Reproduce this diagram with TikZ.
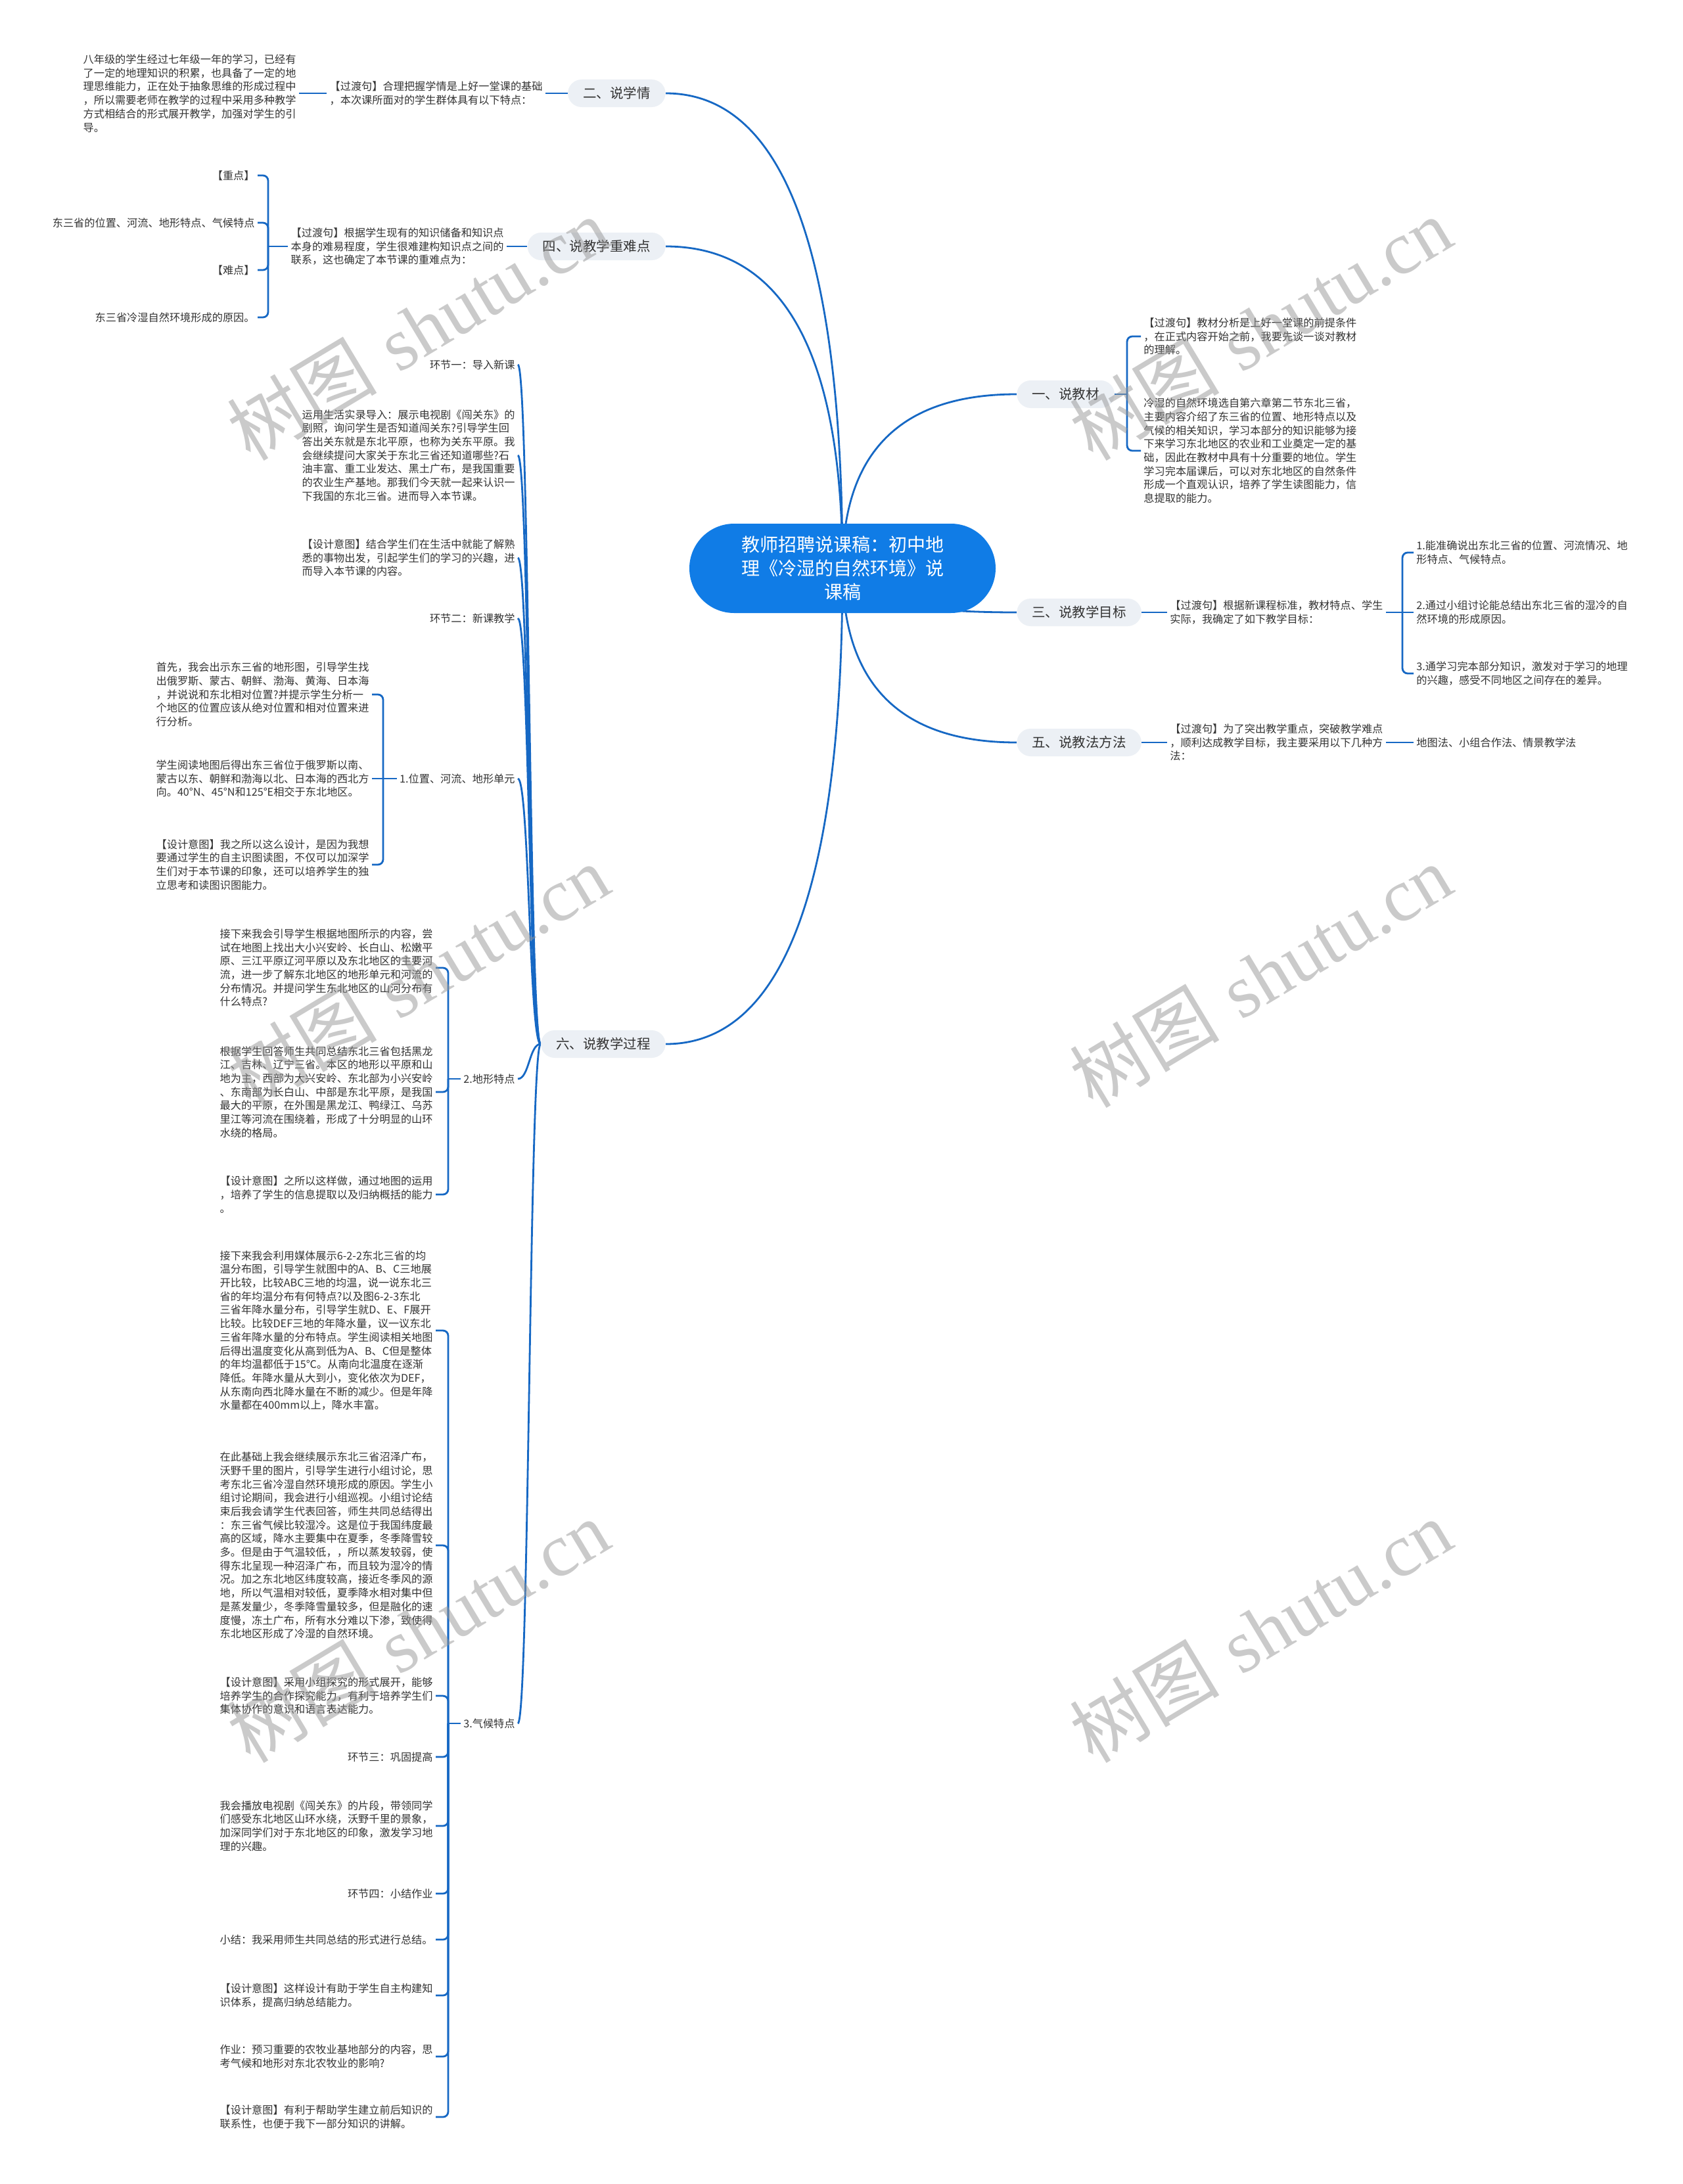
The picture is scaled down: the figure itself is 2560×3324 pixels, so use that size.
\documentclass[tikz,border=0pt]{standalone}
\usepackage{fontspec}
\newfontfamily\cjk{Noto Sans CJK SC}
\newfontfamily\wmserif{Liberation Serif}
\usetikzlibrary{calc}
\definecolor{linec}{RGB}{22,104,196}
\definecolor{rootc}{RGB}{16,124,230}
\definecolor{pillc}{RGB}{236,240,245}
\definecolor{txtc}{RGB}{51,51,51}
\definecolor{wmc}{RGB}{150,150,150}
\pgfdeclarelayer{back}
\pgfdeclarelayer{bg}
\pgfsetlayers{back,bg,main}
\tikzset{
 leaf/.style={font=\cjk\fontsize{8.1pt}{10.35pt}\selectfont, text=txtc, align=left, inner xsep=2pt, inner ysep=1pt},
 pill/.style={font=\cjk\fontsize{10.25pt}{12pt}\selectfont, text=txtc, fill=pillc, rounded corners=10.5pt, minimum height=21pt, inner xsep=11.5pt, inner ysep=0pt},
 rootnode/.style={font=\cjk\fontsize{14pt}{18pt}\selectfont, text=white, fill=rootc, rounded corners=34pt, minimum width=233pt, minimum height=68pt, align=center},
 conn/.style={draw=linec, line width=1.4pt},
 brk/.style={conn, rounded corners=4pt},
 vcurve/.style={to path={.. controls ($(\tikztostart)!0.667!(\tikztostart |- \tikztotarget)$) and ($(\tikztotarget)!0.667!(\tikztostart |- \tikztotarget)$) .. (\tikztotarget)}},
 scurve/.style={to path={.. controls ($(\tikztostart)!0.5!(\tikztotarget |- \tikztostart)$) and ($(\tikztotarget)!0.5!(\tikztostart |- \tikztotarget)$) .. (\tikztotarget)}},
 wm/.style={text=wmc, opacity=0.5, rotate=31, font=\fontsize{57pt}{60pt}\selectfont, inner sep=0pt}
}
\begin{document}
\begin{tikzpicture}[x=0.5pt, y=-0.5pt]
\begin{pgfonlayer}{back}
\fill[white] (0,0) rectangle (2560,3324);
\end{pgfonlayer}
\useasboundingbox (0,0) rectangle (2560,3324);

% root
\node[rootnode] (root) at (1282,865) {教师招聘说课稿：初中地\\理《冷湿的自然环境》说\\课稿};

% level 1
\node[pill, anchor=east] (er) at (1013,142) {二、说学情};
\node[pill, anchor=east] (si) at (1013,375) {四、说教学重难点};
\node[pill, anchor=east] (liu) at (1013,1589) {六、说教学过程};
\node[pill, anchor=west] (yi) at (1547,600) {一、说教材};
\node[pill, anchor=west] (san) at (1547,932) {三、说教学目标};
\node[pill, anchor=west] (wu) at (1547,1130) {五、说教法方法};

% 二
\node[leaf, anchor=east] (erA) at (830,142) {【过渡句】合理把握学情是上好一堂课的基础\\，本次课所面对的学生群体具有以下特点：};
\node[leaf, anchor=east] (erB) at (455,142) {八年级的学生经过七年级一年的学习，已经有\\了一定的地理知识的积累，也具备了一定的地\\理思维能力，正在处于抽象思维的形成过程中\\，所以需要老师在教学的过程中采用多种教学\\方式相结合的形式展开教学，加强对学生的引\\导。};

% 四
\node[leaf, anchor=east] (siA) at (771,375) {【过渡句】根据学生现有的知识储备和知识点\\本身的难易程度，学生很难建构知识点之间的\\联系，这也确定了本节课的重难点为：};
\coordinate (jsi) at (408,375);
\node[leaf, anchor=east] (siB) at (392,267) {【重点】};
\node[leaf, anchor=east] (siC) at (392,339) {东三省的位置、河流、地形特点、气候特点};
\node[leaf, anchor=east] (siD) at (392,411) {【难点】};
\node[leaf, anchor=east] (siE) at (392,483) {东三省冷湿自然环境形成的原因。};

% 一
\coordinate (jyi) at (1715,600);
\node[leaf, anchor=west] (yiA) at (1736,512) {【过渡句】教材分析是上好一堂课的前提条件\\，在正式内容开始之前，我要先谈一谈对教材\\的理解。};
\node[leaf, anchor=west] (yiB) at (1736,686) {冷湿的自然环境选自第六章第二节东北三省，\\主要内容介绍了东三省的位置、地形特点以及\\气候的相关知识，学习本部分的知识能够为接\\下来学习东北地区的农业和工业奠定一定的基\\础，因此在教材中具有十分重要的地位。学生\\学习完本届课后，可以对东北地区的自然条件\\形成一个直观认识，培养了学生读图能力，信\\息提取的能力。};

% 三
\node[leaf, anchor=west] (sanA) at (1776,932) {【过渡句】根据新课程标准，教材特点、学生\\实际，我确定了如下教学目标：};
\coordinate (jsan) at (2134,932);
\node[leaf, anchor=west] (sanB) at (2151,841) {1.能准确说出东北三省的位置、河流情况、地\\形特点、气候特点。};
\node[leaf, anchor=west] (sanC) at (2151,932) {2.通过小组讨论能总结出东北三省的湿冷的自\\然环境的形成原因。};
\node[leaf, anchor=west] (sanD) at (2151,1025) {3.通学习完本部分知识，激发对于学习的地理\\的兴趣，感受不同地区之间存在的差异。};

% 五
\node[leaf, anchor=west] (wuA) at (1776,1130) {【过渡句】为了突出教学重点，突破教学难点\\，顺利达成教学目标，我主要采用以下几种方\\法：};
\node[leaf, anchor=west] (wuB) at (2151,1130) {地图法、小组合作法、情景教学法};

% 六
\node[leaf, anchor=east] (liu1) at (788,555) {环节一：导入新课};
\node[leaf, anchor=east] (liu2) at (788,693) {运用生活实录导入：展示电视剧《闯关东》的\\剧照，询问学生是否知道闯关东?引导学生回\\答出关东就是东北平原，也称为关东平原。我\\会继续提问大家关于东北三省还知道哪些?石\\油丰富、重工业发达、黑土广布，是我国重要\\的农业生产基地。那我们今天就一起来认识一\\下我国的东北三省。进而导入本节课。};
\node[leaf, anchor=east] (liu3) at (788,849) {【设计意图】结合学生们在生活中就能了解熟\\悉的事物出发，引起学生们的学习的兴趣，进\\而导入本节课的内容。};
\node[leaf, anchor=east] (liu4) at (788,941) {环节二：新课教学};
\node[leaf, anchor=east] (liu5) at (788,1185) {1.位置、河流、地形单元};
\node[leaf, anchor=east] (liu6) at (788,1642) {2.地形特点};
\node[leaf, anchor=east] (liu7) at (788,2623) {3.气候特点};

% 1.
\coordinate (j5) at (583,1185);
\node[leaf, anchor=east] (p1a) at (566,1057) {首先，我会出示东三省的地形图，引导学生找\\出俄罗斯、蒙古、朝鲜、渤海、黄海、日本海\\，并说说和东北相对位置?并提示学生分析一\\个地区的位置应该从绝对位置和相对位置来进\\行分析。};
\node[leaf, anchor=east] (p1b) at (566,1185) {学生阅读地图后得出东三省位于俄罗斯以南、\\蒙古以东、朝鲜和渤海以北、日本海的西北方\\向。40°N、45°N和125°E相交于东北地区。};
\node[leaf, anchor=east] (p1c) at (566,1316) {【设计意图】我之所以这么设计，是因为我想\\要通过学生的自主识图读图，不仅可以加深学\\生们对于本节课的印象，还可以培养学生的独\\立思考和读图识图能力。};

% 2.
\coordinate (j6) at (682,1642);
\node[leaf, anchor=east] (p2a) at (663,1473) {接下来我会引导学生根据地图所示的内容，尝\\试在地图上找出大小兴安岭、长白山、松嫩平\\原、三江平原辽河平原以及东北地区的主要河\\流，进一步了解东北地区的地形单元和河流的\\分布情况。并提问学生东北地区的山河分布有\\什么特点?};
\node[leaf, anchor=east] (p2b) at (663,1662) {根据学生回答师生共同总结东北三省包括黑龙\\江、吉林、辽宁三省。本区的地形以平原和山\\地为主，西部为大兴安岭、东北部为小兴安岭\\、东南部为长白山、中部是东北平原，是我国\\最大的平原，在外围是黑龙江、鸭绿江、乌苏\\里江等河流在围绕着，形成了十分明显的山环\\水绕的格局。};
\node[leaf, anchor=east] (p2c) at (663,1818) {【设计意图】之所以这样做，通过地图的运用\\，培养了学生的信息提取以及归纳概括的能力\\。};

% 3.
\coordinate (j7) at (682,2623);
\node[leaf, anchor=east] (p3a) at (663,2025) {接下来我会利用媒体展示6-2-2东北三省的均\\温分布图，引导学生就图中的A、B、C三地展\\开比较，比较ABC三地的均温，说一说东北三\\省的年均温分布有何特点?以及图6-2-3东北\\三省年降水量分布，引导学生就D、E、F展开\\比较。比较DEF三地的年降水量，议一议东北\\三省年降水量的分布特点。学生阅读相关地图\\后得出温度变化从高到低为A、B、C但是整体\\的年均温都低于15℃。从南向北温度在逐渐\\降低。年降水量从大到小，变化依次为DEF，\\从东南向西北降水量在不断的减少。但是年降\\水量都在400mm以上，降水丰富。};
\node[leaf, anchor=east] (p3b) at (663,2352) {在此基础上我会继续展示东北三省沼泽广布，\\沃野千里的图片，引导学生进行小组讨论，思\\考东北三省冷湿自然环境形成的原因。学生小\\组讨论期间，我会进行小组巡视。小组讨论结\\束后我会请学生代表回答，师生共同总结得出\\：东三省气候比较湿冷。这是位于我国纬度最\\高的区域，降水主要集中在夏季，冬季降雪较\\多。但是由于气温较低，，所以蒸发较弱，使\\得东北呈现一种沼泽广布，而且较为湿冷的情\\况。加之东北地区纬度较高，接近冬季风的源\\地，所以气温相对较低，夏季降水相对集中但\\是蒸发量少，冬季降雪量较多，但是融化的速\\度慢，冻土广布，所有水分难以下渗，致使得\\东北地区形成了冷湿的自然环境。};
\node[leaf, anchor=east] (p3c) at (663,2581) {【设计意图】采用小组探究的形式展开，能够\\培养学生的合作探究能力，有利于培养学生们\\集体协作的意识和语言表达能力。};
\node[leaf, anchor=east] (p3d) at (663,2674) {环节三：巩固提高};
\node[leaf, anchor=east] (p3e) at (663,2779) {我会播放电视剧《闯关东》的片段，带领同学\\们感受东北地区山环水绕，沃野千里的景象，\\加深同学们对于东北地区的印象，激发学习地\\理的兴趣。};
\node[leaf, anchor=east] (p3f) at (663,2882) {环节四：小结作业};
\node[leaf, anchor=east] (p3g) at (663,2952) {小结：我采用师生共同总结的形式进行总结。};
\node[leaf, anchor=east] (p3h) at (663,3037) {【设计意图】这样设计有助于学生自主构建知\\识体系，提高归纳总结能力。};
\node[leaf, anchor=east] (p3i) at (663,3130) {作业：预习重要的农牧业基地部分的内容，思\\考气候和地形对东北农牧业的影响?};
\node[leaf, anchor=east] (p3j) at (663,3222) {【设计意图】有利于帮助学生建立前后知识的\\联系性，也便于我下一部分知识的讲解。};

% connectors
\begin{pgfonlayer}{bg}
\draw[conn] (root.center) to[vcurve] (er.east);
\draw[conn] (root.center) to[vcurve] (si.east);
\draw[conn] (root.center) to[vcurve] (liu.east);
\draw[conn] (root.center) to[vcurve] (yi.west);
\draw[conn] (root.center) to[vcurve] (san.west);
\draw[conn] (root.center) to[vcurve] (wu.west);

\draw[conn] (er.west) -- (erA.east);
\draw[conn] (erA.west) -- (erB.east);

\draw[conn] (si.west) -- (siA.east);
\draw[conn] (siA.west) -- (jsi);
\foreach \c in {siB,siC,siD,siE} \draw[brk] (jsi) |- (\c.east);

\draw[conn] (yi.east) -- (jyi);
\foreach \c in {yiA,yiB} \draw[brk] (jyi) |- (\c.west);

\draw[conn] (san.east) -- (sanA.west);
\draw[conn] (sanA.east) -- (jsan);
\foreach \c in {sanB,sanD} \draw[brk] (jsan) |- (\c.west);
\draw[conn] (jsan) -- (sanC.west);

\draw[conn] (wu.east) -- (wuA.west);
\draw[conn] (wuA.east) -- (wuB.west);

\foreach \c in {liu1,liu2,liu3,liu4,liu5,liu6,liu7} \draw[conn] (liu.west) to[scurve] (\c.east);

\draw[conn] (liu5.west) -- (j5);
\foreach \c in {p1a,p1c} \draw[brk] (j5) |- (\c.east);
\draw[conn] (j5) -- (p1b.east);

\draw[conn] (liu6.west) -- (j6);
\foreach \c in {p2a,p2b,p2c} \draw[brk] (j6) |- (\c.east);

\draw[conn] (liu7.west) -- (j7);
\foreach \c in {p3a,p3b,p3c,p3d,p3e,p3f,p3g,p3h,p3i,p3j} \draw[brk] (j7) |- (\c.east);
\end{pgfonlayer}

% watermarks
\foreach \i/\wx/\wy in {1/636/500, 2/1918/500, 3/636/1485, 4/1918/1485, 5/636/2482, 6/1918/2482}
  \node[wm] (wm\i) at (\wx,\wy) {{\cjk 树图} {\wmserif shutu.cn}};
\end{tikzpicture}
\end{document}
